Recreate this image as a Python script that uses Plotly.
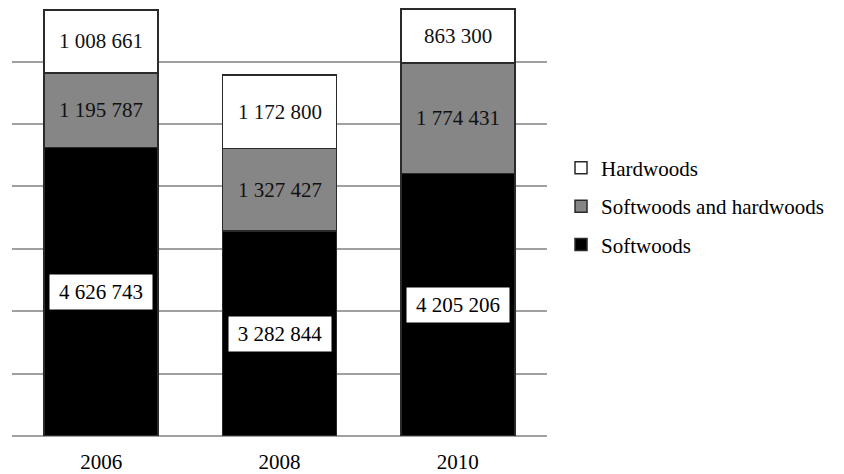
import plotly.graph_objects as go

years = ["2006", "2008", "2010"]
softwoods = [4626743, 3282844, 4205206]
mixed = [1195787, 1327427, 1774431]
hardwoods = [1008661, 1172800, 863300]

series_names = ["Softwoods", "Softwoods and hardwoods", "Hardwoods"]
series_values = [softwoods, mixed, hardwoods]
series_colors = ["#000000", "#868686", "#ffffff"]
legend_ranks = [3, 2, 1]

FONT = "Liberation Serif"
xpos = list(range(len(years)))


def fmt(v):
    return f"{v:,}".replace(",", " ")


fig = go.Figure()
for name, vals, col, rk in zip(series_names, series_values, series_colors, legend_ranks):
    fig.add_trace(go.Bar(
        x=xpos, y=vals, name=name, legendgroup=name, legendrank=rk,
        marker=dict(color=col, line=dict(color="#2a2a2a", width=1.5)),
        width=0.64,
    ))

annotations = []
for i in xpos:
    base = 0
    for name, vals in zip(series_names, series_values):
        v = vals[i]
        mid = base + v / 2
        if name == "Softwoods":
            annotations.append(dict(
                x=i, y=mid, xref="x", yref="y", text=fmt(v), showarrow=False,
                font=dict(family=FONT, size=21, color="#000000"),
                bgcolor="#ffffff", borderpad=5, width=92,
            ))
        else:
            annotations.append(dict(
                x=i, y=mid, xref="x", yref="y", text=fmt(v), showarrow=False,
                font=dict(family=FONT, size=21, color="#111111"),
            ))
        base += v

fig.update_layout(
    barmode="stack",
    width=836, height=466,
    margin=dict(l=4, r=297, t=0, b=38, autoexpand=False),
    paper_bgcolor="#ffffff", plot_bgcolor="#ffffff",
    font=dict(family=FONT, size=21, color="#000000"),
    legend=dict(
        x=1.0262, xanchor="left", y=0.6736, yanchor="top",
        traceorder="grouped", tracegroupgap=8,
        font=dict(family=FONT, size=21, color="#000000"),
    ),
    annotations=annotations,
    xaxis=dict(
        range=[-0.5, len(years) - 0.5], tickvals=xpos, ticktext=years,
        showgrid=False, zeroline=False, automargin=False,
        ticks="outside", ticklen=7, tickcolor="rgba(0,0,0,0)",
        tickfont=dict(family=FONT, size=21, color="#000000"),
    ),
    yaxis=dict(
        range=[0, 6.861e6], dtick=1e6, showgrid=True, gridcolor="#a0a0a0",
        gridwidth=1.5, zeroline=True, zerolinecolor="#a0a0a0", zerolinewidth=1.5,
        showticklabels=False, automargin=False,
    ),
)

fig.write_html("out.html")
